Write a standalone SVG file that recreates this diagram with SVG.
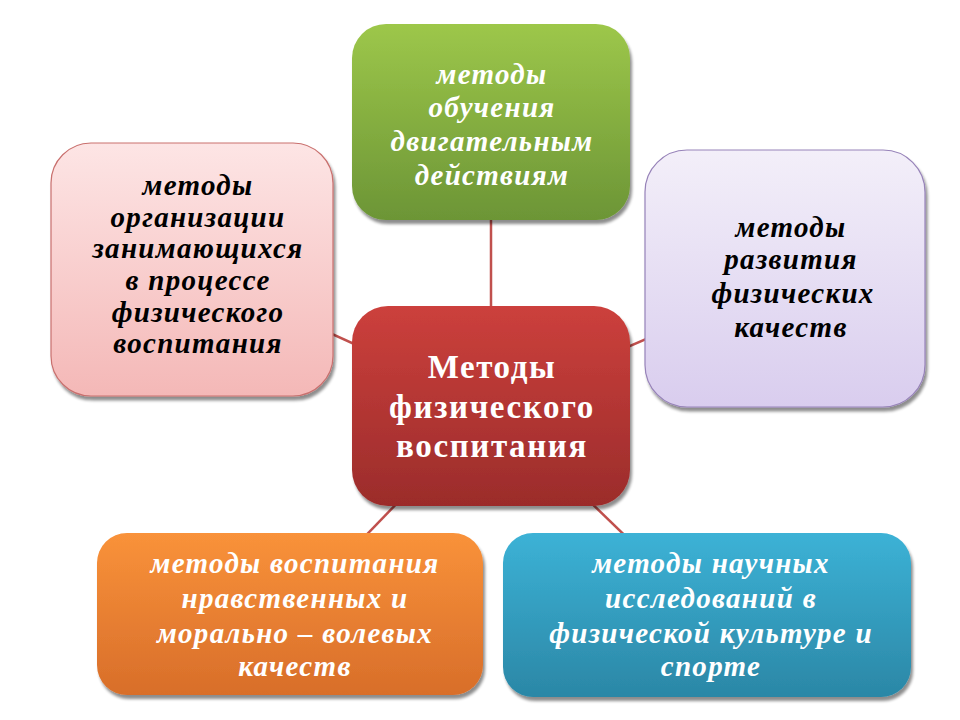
<svg xmlns="http://www.w3.org/2000/svg" width="960" height="720" viewBox="0 0 960 720">
<defs>
<linearGradient id="gGreen" x1="0" y1="0" x2="0" y2="1"><stop offset="0" stop-color="#9dc74a"/><stop offset="1" stop-color="#6c9536"/></linearGradient>
<linearGradient id="gPink" x1="0" y1="0" x2="0" y2="1"><stop offset="0" stop-color="#fde5e5"/><stop offset="1" stop-color="#f4b8b7"/></linearGradient>
<linearGradient id="gPurple" x1="0" y1="0" x2="0" y2="1"><stop offset="0" stop-color="#f3eff9"/><stop offset="1" stop-color="#d9cdee"/></linearGradient>
<linearGradient id="gRed" x1="0" y1="0" x2="0" y2="1"><stop offset="0" stop-color="#cc403c"/><stop offset="1" stop-color="#9b2c2b"/></linearGradient>
<linearGradient id="gOrange" x1="0" y1="0" x2="0" y2="1"><stop offset="0" stop-color="#f9923a"/><stop offset="1" stop-color="#d86e2a"/></linearGradient>
<linearGradient id="gBlue" x1="0" y1="0" x2="0" y2="1"><stop offset="0" stop-color="#3cb2d6"/><stop offset="1" stop-color="#2b87a6"/></linearGradient>
<filter id="shadow" x="-10%" y="-10%" width="125%" height="125%">
<feGaussianBlur in="SourceAlpha" stdDeviation="1.5"/>
<feOffset dx="2" dy="4" result="b"/>
<feComponentTransfer><feFuncA type="linear" slope="0.45"/></feComponentTransfer>
<feMerge><feMergeNode/><feMergeNode in="SourceGraphic"/></feMerge>
</filter>
</defs>
<style>
.conn{stroke:#c0504d;stroke-width:2.5;fill:none}
.box{filter:url(#shadow)}
.t{font-family:"Liberation Serif","Times New Roman",serif;font-weight:bold;font-style:italic;font-size:29px;letter-spacing:1.3px;text-anchor:middle}
.w{fill:#ffffff}
.k{fill:#000000}
.c{font-family:"Liberation Serif","Times New Roman",serif;font-weight:bold;font-size:33px;letter-spacing:1.6px;text-anchor:middle;fill:#ffffff}
</style>
<rect width="960" height="720" fill="#ffffff"/>
<g id="connectors">
<line class="conn" x1="491" y1="406" x2="491" y2="122"/>
<line class="conn" x1="491" y1="406" x2="191" y2="270"/>
<line class="conn" x1="491" y1="406" x2="785" y2="279"/>
<line class="conn" x1="491" y1="406" x2="290" y2="614"/>
<line class="conn" x1="491" y1="406" x2="707" y2="615"/>
</g>
<g id="node-green">
<rect class="box" x="352" y="24" width="278" height="196" rx="34" fill="url(#gGreen)"/>
<text class="t w"><tspan x="492" y="84">методы</tspan><tspan x="492" y="117">обучения</tspan><tspan x="492" y="151">двигательным</tspan><tspan x="492" y="185">действиям</tspan></text>
</g>
<g id="node-pink">
<rect class="box" x="51" y="143" width="282" height="253" rx="40" fill="url(#gPink)" stroke="#c9706e" stroke-width="1.2"/>
<text class="t k"><tspan x="198" y="195">методы</tspan><tspan x="198" y="227">организации</tspan><tspan x="198" y="258">занимающихся</tspan><tspan x="198" y="290">в процессе</tspan><tspan x="198" y="322">физического</tspan><tspan x="198" y="353">воспитания</tspan></text>
</g>
<g id="node-purple">
<rect class="box" x="645" y="150" width="280" height="257" rx="42" fill="url(#gPurple)" stroke="#9783b9" stroke-width="1.2"/>
<text class="t k"><tspan x="791" y="237">методы</tspan><tspan x="791" y="269">развития</tspan><tspan x="793" y="303">физических</tspan><tspan x="791" y="337">качеств</tspan></text>
</g>
<g id="node-center">
<rect class="box" x="352" y="306" width="278" height="200" rx="36" fill="url(#gRed)"/>
<text class="c"><tspan x="492" y="378">Методы</tspan><tspan x="492" y="418">физического</tspan><tspan x="492" y="457">воспитания</tspan></text>
</g>
<g id="node-orange">
<rect class="box" x="97" y="533" width="386" height="162" rx="30" fill="url(#gOrange)"/>
<text class="t w"><tspan x="295" y="573">методы воспитания</tspan><tspan x="295" y="608">нравственных и</tspan><tspan x="295" y="643">морально – волевых</tspan><tspan x="295" y="676">качеств</tspan></text>
</g>
<g id="node-blue">
<rect class="box" x="503" y="533" width="408" height="164" rx="30" fill="url(#gBlue)"/>
<text class="t w"><tspan x="711" y="573">методы научных</tspan><tspan x="711" y="608">исследований в</tspan><tspan x="711" y="643">физической культуре и</tspan><tspan x="711" y="676">спорте</tspan></text>
</g>
</svg>
